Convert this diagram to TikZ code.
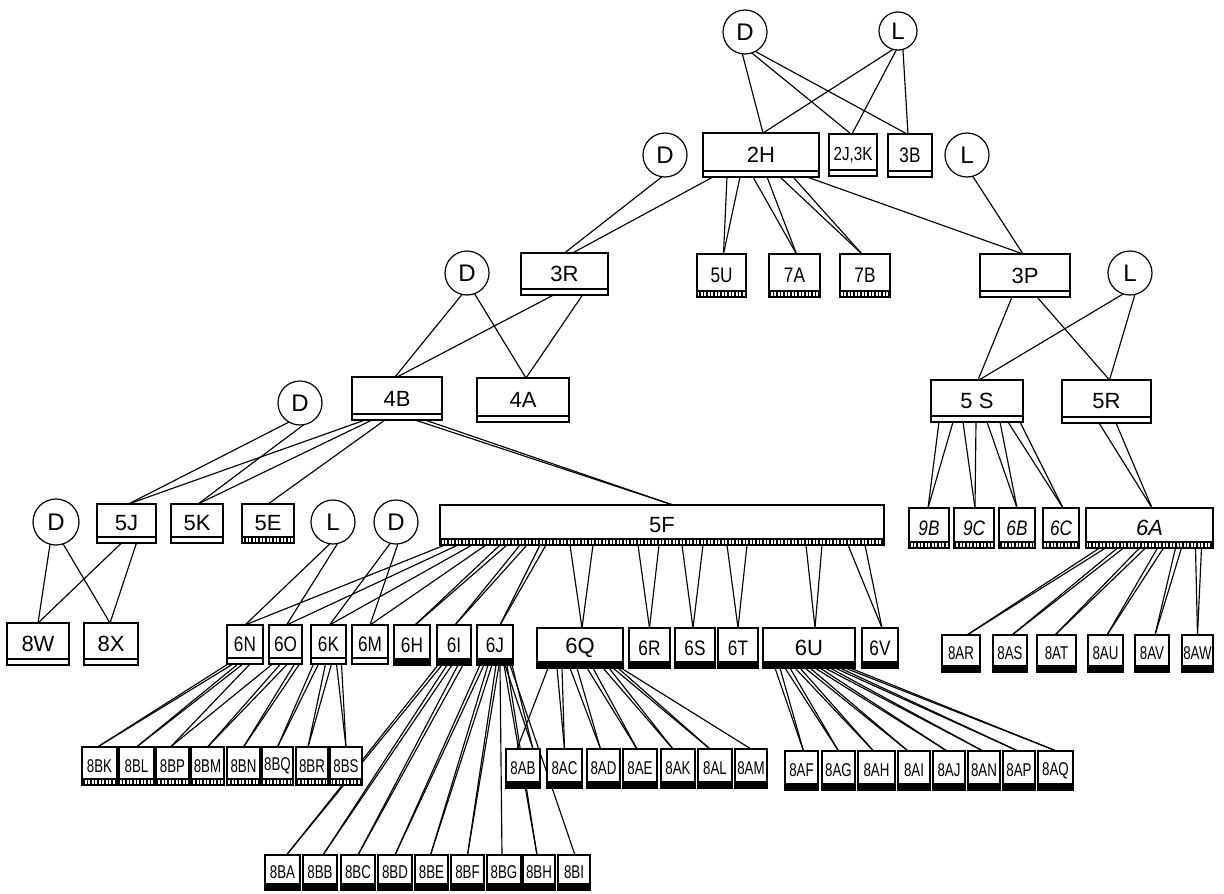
\documentclass[tikz,border=0pt]{standalone}
\usepackage{fontspec}
\setmainfont{Liberation Sans}
\usetikzlibrary{patterns.meta}
\pgfdeclarelayer{bg}
\pgfsetlayers{bg,main}
\newcommand\fbig{\fontsize{22}{22}\selectfont}
\newcommand\mlab[1]{\scalebox{0.82}[1]{\fontsize{21}{21}\selectfont #1}}
\newcommand\ilab[1]{\scalebox{0.82}[1]{\fontsize{21}{21}\selectfont\itshape #1}}
\newcommand\slab[1]{\scalebox{0.72}[1]{\fontsize{18.5}{18.5}\selectfont #1}}
\newcommand\bx[7]{\node[#1, minimum width={(#5)-(#3)}, minimum height={(#6)-(#4)}] (#2) at ({((#3)+(#5))/2},{((#4)+(#6))/2}) {#7};}
\newcommand\cc[5]{\node[circ, minimum size={2*(#5)}] (#1) at (#3,#4) {#2};}
\newcommand\E[4]{\draw[ln] ([xshift=#2pt]#1.south) -- ([xshift=#4pt]#3.north);}
\newcommand\F[4]{\draw[ln] (#1.#2) -- ([xshift=#4pt]#3.north);}
\tikzset{
 every node/.style={inner sep=0pt, outer sep=0pt},
 box/.style={draw, fill=white, line width=1.2pt, font=\fbig},
 circ/.style={draw, circle, fill=white, line width=1.2pt, font=\fontsize{24}{24}\selectfont},
 dbl/.style={box, path picture={\draw[black, line width=1.2pt] ([yshift=6pt]path picture bounding box.south west) -- ([yshift=6pt]path picture bounding box.south east);}},
 blk/.style={box, path picture={\fill[black] (path picture bounding box.south west) rectangle ([yshift=7pt]path picture bounding box.south east);}},
 tck/.style={box, path picture={\fill[pattern={Lines[angle=90,distance=3.5pt,line width=1.3pt]}] (path picture bounding box.south west) rectangle ([yshift=6pt]path picture bounding box.south east); \draw[black, line width=1.2pt] ([yshift=6pt]path picture bounding box.south west) -- ([yshift=6pt]path picture bounding box.south east);}},
 ln/.style={line width=1.15pt, line cap=round}
}
\begin{document}
\begin{tikzpicture}[x=1pt,y=-1pt]
\useasboundingbox (0,0) rectangle (1224,894);
% circles
\cc{cD1}{D}{745}{32}{22}
\cc{cL1}{L}{898}{31}{19}
\cc{cD2}{D}{665}{155}{22}
\cc{cL2}{L}{967}{155}{22}
\cc{cD3}{D}{467}{273}{22}
\cc{cL3}{L}{1130}{273}{22}
\cc{cD4}{D}{300}{403}{22}
\cc{cD5}{D}{56}{522}{23}
\cc{cL5}{L}{333}{522}{22}
\cc{cD6}{D}{396}{522}{22}
% upper boxes
\bx{dbl}{n2H}{703}{133}{819}{177}{2H}
\bx{dbl}{n2J}{829}{134}{877}{176}{\scalebox{0.8}[1]{\fontsize{19}{19}\selectfont 2J,3K}}
\bx{dbl}{n3B}{888}{134}{932}{177}{\mlab{3B}}
\bx{dbl}{n3R}{521}{253}{608}{295}{3R}
\bx{tck}{n5U}{697}{254}{746}{297}{\mlab{5U}}
\bx{tck}{n7A}{769}{254}{820}{297}{\mlab{7A}}
\bx{tck}{n7B}{840}{254}{890}{297}{\mlab{7B}}
\bx{dbl}{n3P}{980}{254}{1070}{297}{3P}
\bx{dbl}{n4B}{352}{377}{442}{420}{4B}
\bx{dbl}{n4A}{477}{378}{569}{422}{4A}
\bx{dbl}{n5S}{931}{380}{1023}{422}{5 S}
\bx{dbl}{n5R}{1062}{380}{1151}{423}{5R}
% level 5
\bx{dbl}{n5J}{97}{504}{156}{543}{5J}
\bx{dbl}{n5K}{171}{504}{223}{543}{5K}
\bx{tck}{n5E}{242}{504}{294}{543}{5E}
\bx{tck}{n5F}{440}{505}{884}{545}{5F}
\bx{tck}{n9B}{909}{508}{949}{548}{\ilab{9B}}
\bx{tck}{n9C}{954}{508}{994}{548}{\ilab{9C}}
\bx{tck}{n6B}{999}{508}{1035}{548}{\ilab{6B}}
\bx{tck}{n6C}{1043}{508}{1079}{548}{\ilab{6C}}
\bx{tck}{n6A}{1086}{508}{1213}{548}{\itshape 6A}
% level 6
\bx{dbl}{n8W}{7}{623}{69}{665}{8W}
\bx{dbl}{n8X}{84}{623}{138}{665}{8X}
\bx{dbl}{n6N}{227}{625}{263}{664}{\mlab{6N}}
\bx{dbl}{n6O}{269}{625}{302}{664}{\mlab{6O}}
\bx{dbl}{n6K}{311}{625}{346}{664}{\mlab{6K}}
\bx{dbl}{n6M}{352}{625}{388}{664}{\mlab{6M}}
\bx{blk}{n6H}{394}{625}{430}{665}{\mlab{6H}}
\bx{blk}{n6I}{437}{625}{471}{665}{\mlab{6I}}
\bx{blk}{n6J}{477}{625}{513}{665}{\mlab{6J}}
\bx{blk}{n6Q}{537}{628}{623}{668}{6Q}
\bx{blk}{n6R}{629}{628}{670}{668}{\mlab{6R}}
\bx{blk}{n6S}{675}{628}{715}{668}{\mlab{6S}}
\bx{blk}{n6T}{718}{628}{758}{668}{\mlab{6T}}
\bx{blk}{n6U}{763}{628}{855}{668}{6U}
\bx{blk}{n6V}{862}{628}{898}{668}{\mlab{6V}}
\bx{blk}{n8AR}{942}{635}{980}{672}{\slab{8AR}}
\bx{blk}{n8AS}{993}{635}{1027}{672}{\slab{8AS}}
\bx{blk}{n8AT}{1037}{635}{1076}{672}{\slab{8AT}}
\bx{blk}{n8AU}{1088}{635}{1123}{672}{\slab{8AU}}
\bx{blk}{n8AV}{1135}{635}{1169}{672}{\slab{8AV}}
\bx{blk}{n8AW}{1182}{635}{1213}{672}{\slab{8AW}}
% level 7
\bx{tck}{n8BK}{82}{747}{117}{785}{\slab{8BK}}
\bx{tck}{n8BL}{119}{747}{154}{785}{\slab{8BL}}
\bx{tck}{n8BP}{156}{747}{189}{785}{\slab{8BP}}
\bx{tck}{n8BM}{191}{747}{224}{785}{\slab{8BM}}
\bx{tck}{n8BN}{227}{747}{260}{785}{\slab{8BN}}
\bx{tck}{n8BQ}{262}{747}{293}{785}{\slab{8BQ}}
\bx{tck}{n8BR}{296}{747}{328}{785}{\slab{8BR}}
\bx{tck}{n8BS}{330}{747}{362}{785}{\slab{8BS}}
\bx{blk}{n8AB}{506}{749}{540}{788}{\slab{8AB}}
\bx{blk}{n8AC}{547}{749}{582}{788}{\slab{8AC}}
\bx{blk}{n8AD}{587}{749}{620}{788}{\slab{8AD}}
\bx{blk}{n8AE}{623}{749}{657}{788}{\slab{8AE}}
\bx{blk}{n8AK}{661}{749}{695}{788}{\slab{8AK}}
\bx{blk}{n8AL}{698}{749}{732}{788}{\slab{8AL}}
\bx{blk}{n8AM}{735}{749}{767}{788}{\slab{8AM}}
\bx{blk}{n8AF}{785}{751}{818}{790}{\slab{8AF}}
\bx{blk}{n8AG}{822}{751}{855}{790}{\slab{8AG}}
\bx{blk}{n8AH}{858}{751}{895}{790}{\slab{8AH}}
\bx{blk}{n8AI}{898}{751}{930}{790}{\slab{8AI}}
\bx{blk}{n8AJ}{933}{751}{965}{790}{\slab{8AJ}}
\bx{blk}{n8AN}{968}{751}{1000}{790}{\slab{8AN}}
\bx{blk}{n8AP}{1003}{751}{1035}{790}{\slab{8AP}}
\bx{blk}{n8AQ}{1038}{751}{1073}{790}{\slab{8AQ}}
% level 8
\bx{blk}{n8BA}{265}{855}{300}{890}{\slab{8BA}}
\bx{blk}{n8BB}{303}{855}{337}{890}{\slab{8BB}}
\bx{blk}{n8BC}{341}{855}{375}{890}{\slab{8BC}}
\bx{blk}{n8BD}{378}{855}{412}{890}{\slab{8BD}}
\bx{blk}{n8BE}{415}{855}{448}{890}{\slab{8BE}}
\bx{blk}{n8BF}{451}{855}{484}{890}{\slab{8BF}}
\bx{blk}{n8BG}{487}{855}{521}{890}{\slab{8BG}}
\bx{blk}{n8BH}{523}{855}{555}{890}{\slab{8BH}}
\bx{blk}{n8BI}{558}{855}{590}{890}{\slab{8BI}}
\begin{pgfonlayer}{bg}
% top
\F{cD1}{-97}{n2H}{2} \F{cD1}{-72}{n2J}{-2} \F{cD1}{-62}{n3B}{-3}
\F{cL1}{-105}{n2H}{2} \F{cL1}{-95}{n2J}{-1} \F{cL1}{-75}{n3B}{-2}
% level 2
\F{cD2}{-98}{n3R}{0} \E{n2H}{-48}{n3R}{8}
\E{n2H}{-34}{n5U}{2} \E{n2H}{-21}{n5U}{2}
\E{n2H}{-8}{n7A}{2} \E{n2H}{6}{n7A}{2}
\E{n2H}{19}{n7B}{-3} \E{n2H}{32}{n7B}{-3}
\E{n2H}{46}{n3P}{-2} \F{cL2}{-75}{n3P}{-2}
% level 3
\F{cD3}{-103}{n4B}{-2} \E{n3R}{-11}{n4B}{0}
\F{cD3}{-70}{n4A}{3} \E{n3R}{18}{n4A}{3}
\F{cL3}{-108}{n5S}{2} \E{n3P}{-13}{n5S}{1}
\E{n3P}{12}{n5R}{3} \F{cL3}{-77}{n5R}{3}
% level 4
\F{cD4}{-120}{n5J}{2} \F{cD4}{-80}{n5K}{1}
\E{n4B}{-32}{n5J}{2} \E{n4B}{-25}{n5K}{1} \E{n4B}{-12}{n5E}{0}
\E{n4B}{18}{n5F}{11} \E{n4B}{28}{n5F}{11}
\F{cD5}{-105}{n8W}{0} \F{cD5}{-72}{n8X}{-1}
\E{n5J}{-5}{n8W}{0} \E{n5J}{10}{n8X}{-1}
% level 5
\F{cL5}{-98}{n6N}{0} \F{cL5}{-78}{n6O}{1}
\F{cD6}{-105}{n6K}{1} \F{cD6}{-85}{n6M}{0}
\E{n5F}{-217}{n6N}{0} \E{n5F}{-204}{n6O}{1} \E{n5F}{-190}{n6K}{1} \E{n5F}{-176}{n6M}{0}
\E{n5F}{-162}{n6H}{3} \E{n5F}{-155}{n6H}{3}
\E{n5F}{-142}{n6I}{1} \E{n5F}{-135}{n6I}{1}
\E{n5F}{-122}{n6J}{5} \E{n5F}{-116}{n6J}{5}
\E{n5F}{-92}{n6Q}{2} \E{n5F}{-69}{n6Q}{2}
\E{n5F}{-24}{n6R}{0} \E{n5F}{-3}{n6R}{0}
\E{n5F}{20}{n6S}{-2} \E{n5F}{41}{n6S}{-2}
\E{n5F}{65}{n6T}{0} \E{n5F}{85}{n6T}{0}
\E{n5F}{144}{n6U}{6} \E{n5F}{160}{n6U}{6}
\E{n5F}{186}{n6V}{2} \E{n5F}{203}{n6V}{2}
\E{n5S}{-38}{n9B}{-1} \E{n5S}{-24}{n9B}{-1}
\E{n5S}{-14}{n9C}{1} \E{n5S}{-1}{n9C}{1}
\E{n5S}{10}{n6B}{0} \E{n5S}{23}{n6B}{0}
\E{n5S}{31}{n6C}{2} \E{n5S}{43}{n6C}{2}
\E{n5R}{-7.5}{n6A}{2.5} \E{n5R}{9.5}{n6A}{2.5}
% 6A children
\E{n6A}{-50}{n8AR}{6} \E{n6A}{-44}{n8AR}{6}
\E{n6A}{-32}{n8AS}{2} \E{n6A}{-26}{n8AS}{2}
\E{n6A}{-10}{n8AT}{-1.5} \E{n6A}{-4}{n8AT}{-1.5}
\E{n6A}{8}{n8AU}{1.5} \E{n6A}{14}{n8AU}{1.5}
\E{n6A}{26}{n8AV}{3} \E{n6A}{32}{n8AV}{3}
\E{n6A}{46}{n8AW}{0} \E{n6A}{52}{n8AW}{0}
% 6N 6O 6K children
\E{n6N}{-17}{n8BK}{-2} \E{n6N}{-12}{n8BK}{-2}
\E{n6N}{-7}{n8BL}{0} \E{n6N}{-2}{n8BL}{0}
\E{n6N}{5}{n8BP}{-2}
\E{n6O}{-13}{n8BP}{-2}
\E{n6O}{-5}{n8BM}{0} \E{n6O}{2}{n8BM}{0}
\E{n6O}{9}{n8BN}{0} \E{n6O}{14}{n8BN}{0}
\E{n6K}{-15}{n8BQ}{0} \E{n6K}{-10}{n8BQ}{0}
\E{n6K}{-3}{n8BR}{-4} \E{n6K}{3}{n8BR}{-4}
\E{n6K}{8}{n8BS}{0} \E{n6K}{13}{n8BS}{0}
% 6Q children
\E{n6Q}{-32}{n8AB}{-6}
\E{n6J}{10}{n8AB}{10} \E{n6J}{17}{n8AB}{10}
\E{n6Q}{-23}{n8AC}{0} \E{n6Q}{-18}{n8AC}{0}
\E{n6Q}{-10}{n8AD}{-3} \E{n6Q}{-3}{n8AD}{-3}
\E{n6Q}{7}{n8AE}{-3} \E{n6Q}{13}{n8AE}{-3}
\E{n6Q}{23}{n8AK}{-5} \E{n6Q}{29}{n8AK}{-5}
\E{n6Q}{33}{n8AL}{-5} \E{n6Q}{38}{n8AL}{-5}
\E{n6Q}{41}{n8AM}{0}
% 6U children
\E{n6U}{-34}{n8AF}{2} \E{n6U}{-29}{n8AF}{2}
\E{n6U}{-24}{n8AG}{0} \E{n6U}{-19}{n8AG}{0}
\E{n6U}{-14}{n8AH}{-3} \E{n6U}{-9}{n8AH}{-3}
\E{n6U}{-4}{n8AI}{-6} \E{n6U}{1}{n8AI}{-6}
\E{n6U}{6}{n8AJ}{-2} \E{n6U}{11}{n8AJ}{-2}
\E{n6U}{16}{n8AN}{-1} \E{n6U}{21}{n8AN}{-1}
\E{n6U}{26}{n8AP}{-1} \E{n6U}{31}{n8AP}{-1}
\E{n6U}{36}{n8AQ}{1} \E{n6U}{41}{n8AQ}{1}
% 6I 6J children
\E{n6I}{-16}{n8BA}{4} \E{n6I}{-12}{n8BA}{4}
\E{n6I}{-7}{n8BB}{3} \E{n6I}{-2}{n8BB}{3}
\E{n6I}{4}{n8BC}{0} \E{n6I}{9}{n8BC}{0}
\E{n6J}{-15}{n8BD}{0} \E{n6J}{-11}{n8BD}{0}
\E{n6J}{-7}{n8BE}{-1} \E{n6J}{-3}{n8BE}{-1}
\E{n6J}{1}{n8BF}{0} \E{n6J}{4}{n8BF}{0}
\E{n6J}{5}{n8BG}{-2}
\E{n6J}{9}{n8BH}{-2} \E{n6J}{12}{n8BH}{-2}
\E{n6J}{15}{n8BI}{1}
\end{pgfonlayer}
\end{tikzpicture}
\end{document}
